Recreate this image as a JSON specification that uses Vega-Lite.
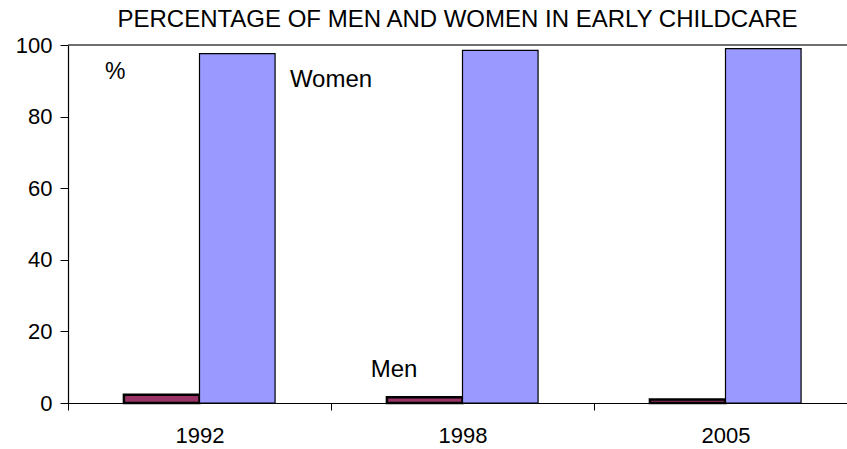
{
  "$schema": "https://vega.github.io/schema/vega-lite/v6.json",
  "autosize": {"type": "none"},
  "width": 779,
  "height": 358,
  "padding": {"left": 68, "top": 45, "right": 0, "bottom": 46},
  "background": "white",
  "config": {
    "view": {"stroke": null},
    "font": "Liberation Sans",
    "axis": {"labelFont": "Liberation Sans", "labelFontSize": 22, "labelColor": "black", "domainColor": "black", "tickColor": "black", "grid": false, "title": null}
  },
  "title": {"text": "PERCENTAGE OF MEN AND WOMEN IN EARLY CHILDCARE", "fontSize": 24, "fontWeight": "normal", "font": "Liberation Sans", "color": "black", "anchor": "middle", "offset": 2},
  "datasets": {
    "bars": [
      {"year": "1992", "sex": "Men", "pct": 2.3},
      {"year": "1992", "sex": "Women", "pct": 97.6},
      {"year": "1998", "sex": "Men", "pct": 1.6},
      {"year": "1998", "sex": "Women", "pct": 98.5},
      {"year": "2005", "sex": "Men", "pct": 1.0},
      {"year": "2005", "sex": "Women", "pct": 99.0}
    ],
    "labels": [
      {"year": "1992", "label": "%", "pos": 92.5},
      {"year": "1998", "label": "Women", "pos": 90.2},
      {"year": "1998", "label": "Men", "pos": 9.3}
    ]
  },
  "layer": [
    {
      "data": {"name": "bars"},
      "mark": {"type": "bar", "stroke": "black"},
      "encoding": {
        "x": {"field": "year", "type": "nominal", "scale": {"range": [0, 789], "paddingInner": 0, "paddingOuter": 0},
              "axis": {"labelAngle": 0, "tickBand": "extent", "tickSize": 7, "labelPadding": 15, "domainWidth": 1.2}},
        "xOffset": {"field": "sex", "type": "nominal", "scale": {"paddingInner": 0, "paddingOuter": 0.74}},
        "y": {"field": "pct", "type": "quantitative", "scale": {"domain": [0, 100], "nice": false},
              "axis": {"values": [0, 20, 40, 60, 80, 100], "tickSize": 8, "labelPadding": 8, "domainWidth": 1.2}},
        "color": {"field": "sex", "type": "nominal", "scale": {"domain": ["Men", "Women"], "range": ["#993366", "#9999FF"]}, "legend": null},
        "strokeWidth": {"field": "sex", "type": "nominal", "scale": {"domain": ["Men", "Women"], "range": [2.5, 1.2]}, "legend": null}
      }
    },
    {
      "data": {"values": [{"v": 100}]},
      "mark": {"type": "rule", "color": "#404040", "strokeWidth": 1.5},
      "encoding": {"y": {"field": "v", "type": "quantitative"}}
    },
    {
      "data": {"name": "labels"},
      "transform": [{"filter": "datum.label === '%'"}],
      "mark": {"type": "text", "fontSize": 23, "font": "Liberation Sans", "color": "black"},
      "encoding": {
        "x": {"field": "year", "type": "nominal", "bandPosition": 0.18},
        "y": {"field": "pos", "type": "quantitative"},
        "text": {"field": "label"}
      }
    },
    {
      "data": {"name": "labels"},
      "transform": [{"filter": "datum.label === 'Women'"}],
      "mark": {"type": "text", "fontSize": 24, "font": "Liberation Sans", "color": "black"},
      "encoding": {
        "x": {"field": "year", "type": "nominal", "bandPosition": 0},
        "y": {"field": "pos", "type": "quantitative"},
        "text": {"field": "label"}
      }
    },
    {
      "data": {"name": "labels"},
      "transform": [{"filter": "datum.label === 'Men'"}],
      "mark": {"type": "text", "fontSize": 24, "font": "Liberation Sans", "color": "black"},
      "encoding": {
        "x": {"field": "year", "type": "nominal", "bandPosition": 0.24},
        "y": {"field": "pos", "type": "quantitative"},
        "text": {"field": "label"}
      }
    }
  ]
}
